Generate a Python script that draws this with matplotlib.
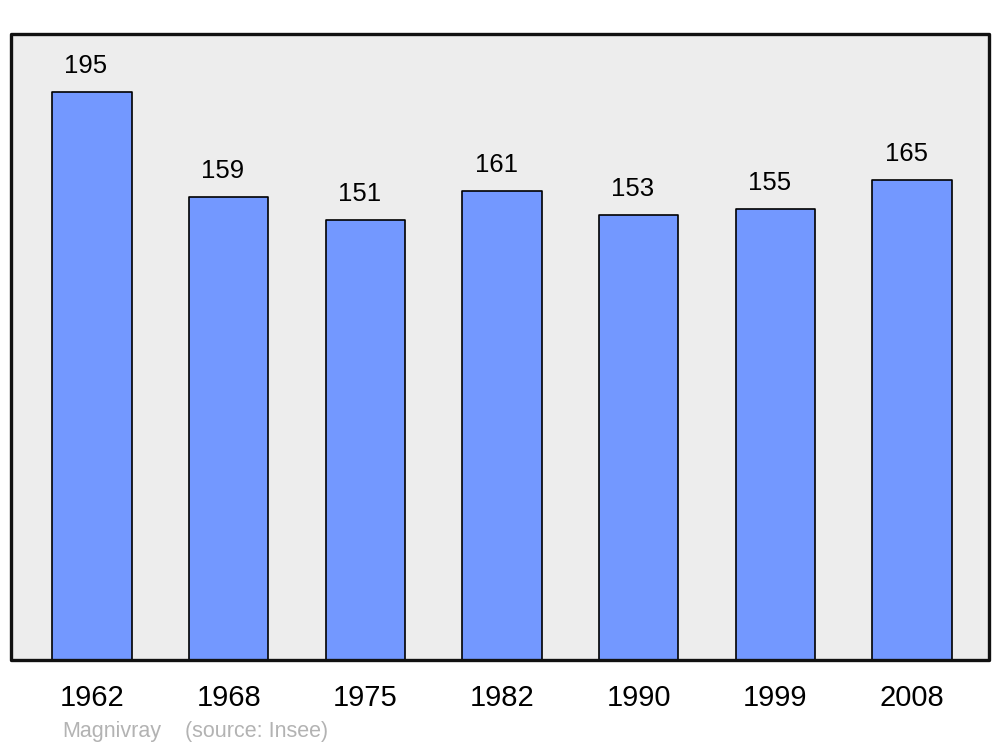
import matplotlib.pyplot as plt
from matplotlib.patches import Rectangle

plt.rcParams['font.family'] = ['Liberation Sans', 'DejaVu Sans']

years = ['1962', '1968', '1975', '1982', '1990', '1999', '2008']
population = [195, 159, 151, 161, 153, 155, 165]

fig = plt.figure(figsize=(10, 7.47), dpi=100)
ax = fig.add_axes([0.011, 87 / 747, 0.978, 626 / 747])
ax.set_facecolor('#ededed')

x = range(len(years))
bars = ax.bar(x, population, width=0.58, color='#7398ff', edgecolor='black', linewidth=1.2)
for b in bars:
    b.set_joinstyle('round')

for xi, v in zip(x, population):
    ax.annotate(str(v), (xi, v), xytext=(-6, 14), textcoords='offset pixels',
                ha='center', va='bottom', fontsize=18.5)

ax.set_xlim(-0.593, 6.563)
ax.set_ylim(0, 215)
ax.set_yticks([])
ax.set_xticks(list(x))
ax.set_xticklabels(years, fontsize=21)
ax.tick_params(axis='x', length=0, pad=17)

for s in ax.spines.values():
    s.set_visible(False)
frame = Rectangle((0, 0), 1, 1, transform=ax.transAxes, fill=False,
                  edgecolor='#111111', linewidth=2.4, joinstyle='round', clip_on=False, zorder=5)
ax.add_patch(frame)

fig.text(0.062, 1 - 737 / 747, 'Magnivray', fontsize=15.5, color='#b3b3b3', va='baseline')
fig.text(0.185, 1 - 737 / 747, '(source: Insee)', fontsize=15.5, color='#b3b3b3', va='baseline')

fig.savefig('out.png', dpi=100)
